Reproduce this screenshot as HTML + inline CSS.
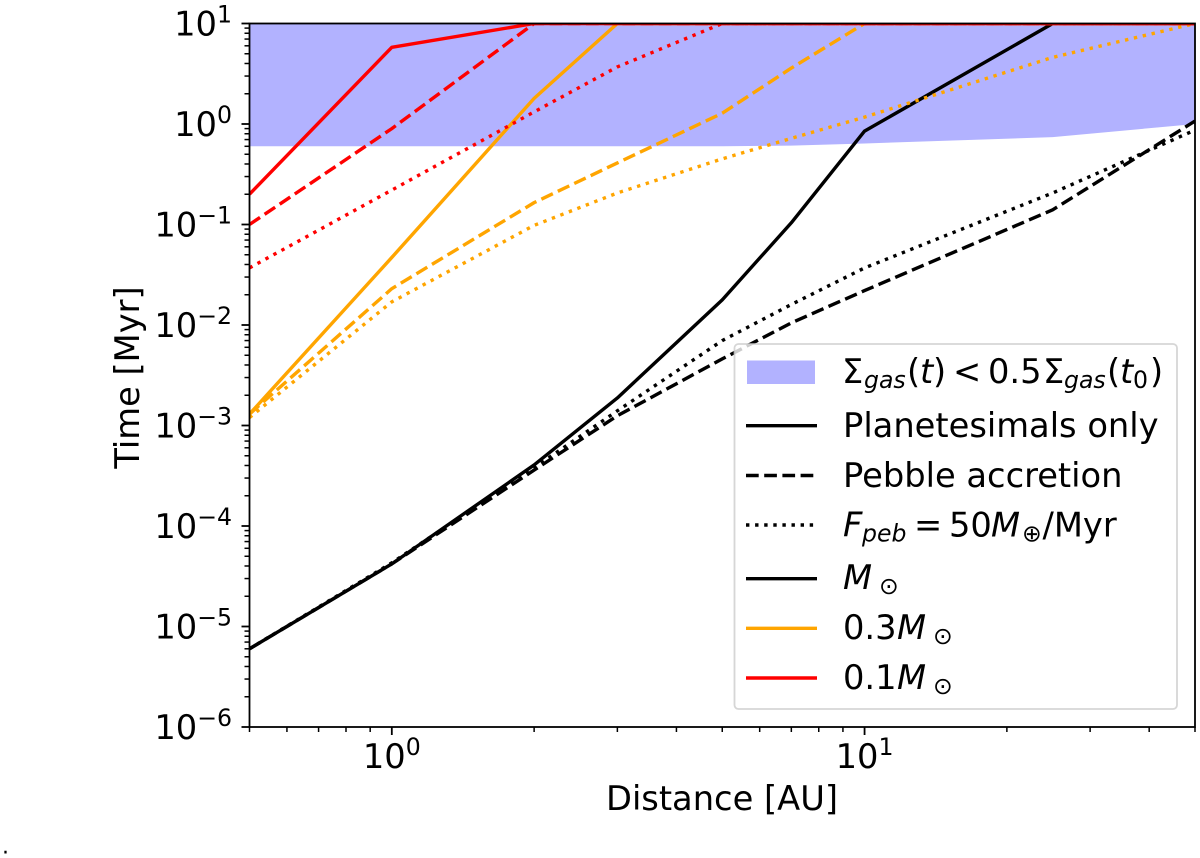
<!DOCTYPE html>
<html lang="en">
<head>
<meta charset="utf-8">
<title>Time vs Distance</title>
<style>
html,body{margin:0;padding:0;background:#fff;}
body{width:1200px;height:858px;overflow:hidden;}
svg{display:block;}
text{font-family:"DejaVu Sans","Liberation Sans",sans-serif;fill:#000;}
.it{font-style:italic;}
.sb{font-size:23.6px;}
</style>
</head>
<body>
<svg id="chart" width="1200" height="858" viewBox="0 0 1200 858" xmlns="http://www.w3.org/2000/svg">
  <defs>
    <clipPath id="plot-clip"><rect x="249.5" y="23.5" width="945.5" height="703.5"/></clipPath>
  </defs>
  <rect x="0" y="0" width="1200" height="858" fill="#fff"/>
  <g id="marks" clip-path="url(#plot-clip)"></g>
  <g id="axes"></g>
  <text x="722" y="810" font-size="33.7" text-anchor="middle">Distance [AU]</text>
  <text transform="translate(139,377.5) rotate(-90)" font-size="33.7" text-anchor="middle">Time [Myr]</text>
  <text x="2" y="853.5" font-size="22">.</text>

  <g>
    <rect x="734.5" y="344" width="442.5" height="365" rx="4" fill="#fff" fill-opacity="0.8" stroke="#ccc" stroke-opacity="0.8" stroke-width="1.8"/>
    <rect x="747" y="360.5" width="68" height="23.5" fill="#b2b2ff"/>
    <line x1="746" x2="817" y1="425.7" y2="425.7" stroke="#000" stroke-width="3.4"/>
    <line x1="746" x2="817" y1="475.5" y2="475.5" stroke="#000" stroke-width="3.4" stroke-dasharray="12.7 5.5"/>
    <line x1="746" x2="817" y1="525" y2="525" stroke="#000" stroke-width="3.4" stroke-dasharray="3.4 5.7"/>
    <line x1="746" x2="817" y1="578.7" y2="578.7" stroke="#000" stroke-width="3.4"/>
    <line x1="746" x2="817" y1="628.3" y2="628.3" stroke="#ffa500" stroke-width="3.4"/>
    <line x1="746" x2="817" y1="678" y2="678" stroke="#f00" stroke-width="3.4"/>
    <text font-size="33.7" y="383"><tspan x="842">Σ</tspan><tspan class="it sb" x="864" dy="5">gas</tspan><tspan x="907" dy="-5">(</tspan><tspan class="it" x="920">t</tspan><tspan x="933">)</tspan><tspan x="953">&lt;</tspan><tspan x="988">0.5</tspan><tspan x="1043">Σ</tspan><tspan class="it sb" x="1064" dy="5">gas</tspan><tspan x="1107" dy="-5">(</tspan><tspan class="it" x="1120">t</tspan><tspan class="sb" x="1133" dy="5">0</tspan><tspan x="1150" dy="-5">)</tspan></text>
    <text x="843" y="437" font-size="33.7">Planetesimals only</text>
    <text x="843" y="487" font-size="33.7">Pebble accretion</text>
    <text font-size="33.7" y="536.5"><tspan class="it" x="843">F</tspan><tspan class="it sb" x="862" dy="5">peb</tspan><tspan x="914" dy="-5">=</tspan><tspan x="949">50</tspan><tspan class="it" x="991">M</tspan><tspan class="sb" x="1022" dy="5">⊕</tspan><tspan x="1042.5" dy="-5">/Myr</tspan></text>
    <text font-size="33.7" y="589"><tspan class="it" x="843">M</tspan><tspan class="sb" x="879" dy="5">⊙</tspan></text>
    <text font-size="33.7" y="639"><tspan x="843">0.3</tspan><tspan class="it" x="897">M</tspan><tspan class="sb" x="933" dy="5">⊙</tspan></text>
    <text font-size="33.7" y="689"><tspan x="843">0.1</tspan><tspan class="it" x="897">M</tspan><tspan class="sb" x="933" dy="5">⊙</tspan></text>
  </g>
</svg>
<script>
// ---- chart data ----
const distances = [0.5, 1, 2, 3, 5, 7, 10, 25, 50];
const gasFloor = [0.6, 0.6, 0.6, 0.6, 0.6, 0.61, 0.64, 0.74, 1.0];
const blackSolid = [6e-6, 4.2e-5, 4.05e-4, 1.88e-3, 1.78e-2, 0.104, 0.85, 10, 10];
const blackDashed = [6e-6, 4.2e-5, 3.6e-4, 1.25e-3, 4.6e-3, 1.05e-2, 2.2e-2, 0.14, 1.07];
const blackDotted = [6e-6, 4.3e-5, 3.8e-4, 1.4e-3, 7e-3, 1.6e-2, 3.7e-2, 0.206, 0.87];
const orangeSolid = [1.3e-3, 0.047, 1.8, 10, 10, 10, 10, 10, 10];
const orangeDashed = [1.3e-3, 0.023, 0.165, 0.41, 1.28, 3.6, 10, 10, 10];
const orangeDotted = [1.2e-3, 0.017, 0.098, 0.206, 0.45, 0.72, 1.17, 4.6, 10];
const redSolid = [0.2, 5.8, 10, 10, 10, 10, 10, 10, 10];
const redDashed = [0.1, 0.9, 10, 10, 10, 10, 10, 10, 10];
const redDotted = [0.037, 0.22, 1.32, 3.7, 10, 10, 10, 10, 10];
const xTickValues = [1, 10];
const xTickExponents = ['0', '1'];
const yTickValues = [10, 1, 0.1, 0.01, 0.001, 1e-4, 1e-5, 1e-6];
const yTickExponents = ['1', '0', '−1', '−2', '−3', '−4', '−5', '−6'];
const xMinorDecades = [0.1, 1, 10];
const yMinorDecades = [1, 0.1, 0.01, 0.001, 1e-4, 1e-5, 1e-6];
const minorMultipliers = [2, 3, 4, 5, 6, 7, 8, 9];

// ---- scales ----
const PLOT = {left: 249.5, right: 1195, top: 23.5, bottom: 727};
const DOMAIN = {xMin: 0.5, xMax: 50, yMin: 1e-6, yMax: 10};
function xScale(v) {
  return PLOT.left + (Math.log10(v) - Math.log10(DOMAIN.xMin)) /
    (Math.log10(DOMAIN.xMax) - Math.log10(DOMAIN.xMin)) * (PLOT.right - PLOT.left);
}
function yScale(v) {
  return PLOT.bottom - (Math.log10(v) - Math.log10(DOMAIN.yMin)) /
    (Math.log10(DOMAIN.yMax) - Math.log10(DOMAIN.yMin)) * (PLOT.bottom - PLOT.top);
}

const NS = 'http://www.w3.org/2000/svg';
const marks = document.getElementById('marks');
const axes = document.getElementById('axes');

// ---- shaded gas region ----
const topEdge = distances.map(function (d) { return xScale(d).toFixed(2) + ',' + yScale(DOMAIN.yMax).toFixed(2); });
const lowEdge = distances.map(function (d, i) { return xScale(d).toFixed(2) + ',' + yScale(gasFloor[i]).toFixed(2); }).reverse();
const band = document.createElementNS(NS, 'polygon');


band.setAttribute('points', topEdge.concat(lowEdge).join(' '));
band.setAttribute('fill', '#b2b2ff');
marks.appendChild(band);

// ---- series ----
function drawSeries(values, color, dash, name) {
  const line = document.createElementNS(NS, 'polyline');
  
  
  line.setAttribute('points', distances.map(function (d, i) {
    return xScale(d).toFixed(2) + ',' + yScale(values[i]).toFixed(2);
  }).join(' '));
  line.setAttribute('fill', 'none');
  line.setAttribute('stroke', color);
  line.setAttribute('stroke-width', '3.4');
  line.setAttribute('stroke-linejoin', 'round');
  if (dash) line.setAttribute('stroke-dasharray', dash);
  marks.appendChild(line);
}
const DASH = '12.7 5.5';
const DOT = '3.4 5.7';
drawSeries(blackSolid, '#000', null, 'series-msun-planetesimals');
drawSeries(blackDashed, '#000', DASH, 'series-msun-pebble');
drawSeries(blackDotted, '#000', DOT, 'series-msun-fpeb');
drawSeries(orangeSolid, '#ffa500', null, 'series-03msun-planetesimals');
drawSeries(orangeDashed, '#ffa500', DASH, 'series-03msun-pebble');
drawSeries(orangeDotted, '#ffa500', DOT, 'series-03msun-fpeb');
drawSeries(redSolid, '#f00', null, 'series-01msun-planetesimals');
drawSeries(redDashed, '#f00', DASH, 'series-01msun-pebble');
drawSeries(redDotted, '#f00', DOT, 'series-01msun-fpeb');

// ---- ticks ----
function drawTick(x1, y1, x2, y2, width, name) {
  const t = document.createElementNS(NS, 'line');
  
  
  t.setAttribute('x1', x1);
  t.setAttribute('y1', y1);
  t.setAttribute('x2', x2);
  t.setAttribute('y2', y2);
  t.setAttribute('stroke', '#000');
  t.setAttribute('stroke-width', width);
  axes.appendChild(t);
}
function drawLabel(x, y, anchor, exponent, name) {
  const t = document.createElementNS(NS, 'text');
  
  
  t.setAttribute('x', x);
  t.setAttribute('y', y);
  t.setAttribute('text-anchor', anchor);
  t.setAttribute('font-size', '33.7');
  t.appendChild(document.createTextNode('10'));
  const sup = document.createElementNS(NS, 'tspan');
  sup.setAttribute('font-size', '23.6');
  sup.setAttribute('dy', '-13');
  sup.textContent = exponent;
  t.appendChild(sup);
  axes.appendChild(t);
}
xMinorDecades.forEach(function (dec) {
  minorMultipliers.forEach(function (m) {
    const v = dec * m;
    if (v < DOMAIN.xMin - 1e-9 || v > DOMAIN.xMax + 1e-9) return;
    const px = xScale(v);
    drawTick(px, PLOT.bottom, px, PLOT.bottom + 5, 1.5, 'x-minor-tick');
  });
});
yMinorDecades.forEach(function (dec) {
  minorMultipliers.forEach(function (m) {
    const py = yScale(dec * m);
    drawTick(PLOT.left - 5, py, PLOT.left, py, 1.5, 'y-minor-tick');
  });
});
xTickValues.forEach(function (v, i) {
  const px = xScale(v);
  drawTick(px, PLOT.bottom, px, PLOT.bottom + 8, 1.8, 'x-major-tick');
  drawLabel(px, 768, 'middle', xTickExponents[i], 'x-tick-label');
});
yTickValues.forEach(function (v, i) {
  const py = yScale(v);
  drawTick(PLOT.left - 8, py, PLOT.left, py, 1.8, 'y-major-tick');
  drawLabel(232, py + 12, 'end', yTickExponents[i], 'y-tick-label');
});

// ---- spines ----
const spine = document.createElementNS(NS, 'rect');


spine.setAttribute('x', PLOT.left);
spine.setAttribute('y', PLOT.top);
spine.setAttribute('width', PLOT.right - PLOT.left);
spine.setAttribute('height', PLOT.bottom - PLOT.top);
spine.setAttribute('fill', 'none');
spine.setAttribute('stroke', '#000');
spine.setAttribute('stroke-width', '1.8');
axes.appendChild(spine);
</script>
</body>
</html>
